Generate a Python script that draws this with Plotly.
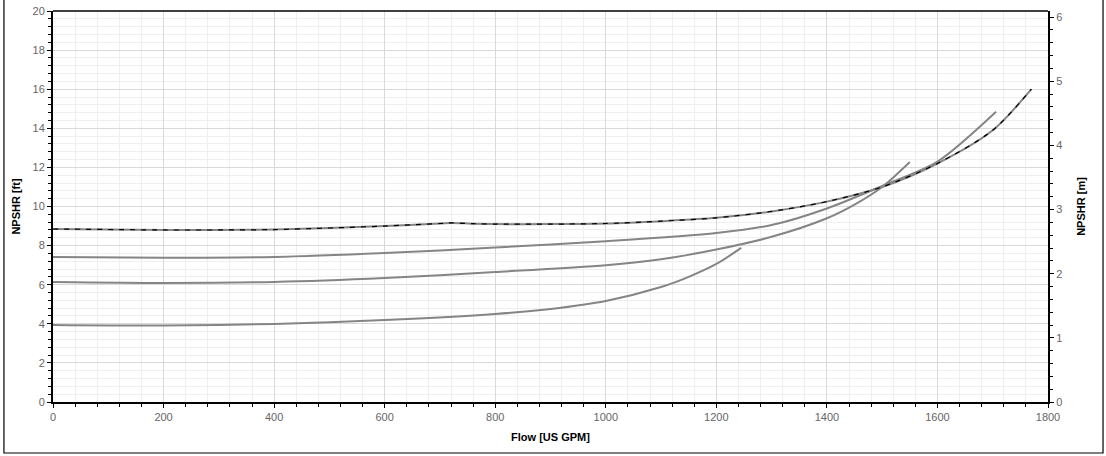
import plotly.graph_objects as go

# Curve A (top, black dashed over grey)
flow_a = [0, 200, 300, 400, 500, 600, 700, 720, 760, 800, 900, 1000, 1100, 1200, 1300, 1400, 1500, 1600, 1700, 1770]
npsh_a = [8.85, 8.80, 8.80, 8.82, 8.90, 9.00, 9.13, 9.16, 9.12, 9.10, 9.10, 9.13, 9.25, 9.42, 9.75, 10.25, 11.0, 12.2, 13.9, 16.0]

flow_b = [0, 200, 400, 600, 800, 1000, 1200, 1300, 1400, 1500, 1600, 1706]
npsh_b = [7.42, 7.38, 7.42, 7.62, 7.9, 8.22, 8.64, 9.05, 9.9, 11.05, 12.3, 14.85]

flow_c = [0, 200, 400, 600, 800, 1000, 1100, 1200, 1300, 1400, 1450, 1500, 1550]
npsh_c = [6.14, 6.09, 6.14, 6.34, 6.65, 7.0, 7.3, 7.8, 8.45, 9.4, 10.1, 11.0, 12.28]

flow_d = [0, 200, 400, 600, 800, 900, 1000, 1100, 1150, 1200, 1245]
npsh_d = [3.94, 3.91, 3.99, 4.19, 4.5, 4.76, 5.17, 5.88, 6.4, 7.06, 7.88]

FT_TO_M = 0.3048

fig = go.Figure()
grey = "#858585"
for fx, fy in [(flow_d, npsh_d), (flow_c, npsh_c), (flow_b, npsh_b), (flow_a, npsh_a)]:
    fig.add_trace(go.Scatter(x=fx, y=fy, mode="lines", line=dict(color=grey, width=2, shape="spline", smoothing=0.8),
                             showlegend=False, hoverinfo="skip"))
fig.add_trace(go.Scatter(x=flow_a, y=npsh_a, mode="lines",
                         line=dict(color="black", width=1.2, dash="5px,6px", shape="spline", smoothing=0.8),
                         showlegend=False, hoverinfo="skip"))
# invisible trace to show secondary axis
fig.add_trace(go.Scatter(x=[0], y=[0], yaxis="y2", mode="markers", marker=dict(opacity=0),
                         showlegend=False, hoverinfo="skip"))

tickfont = dict(family="Liberation Sans, Arial, sans-serif", size=11, color="#666666")
titlefont = dict(family="Liberation Sans, Arial, sans-serif", size=11, color="black")

fig.update_layout(
    width=1106, height=456,
    margin=dict(l=53, r=58, t=11, b=54),
    paper_bgcolor="white", plot_bgcolor="white",
    showlegend=False,
    xaxis=dict(range=[0, 1800], dtick=200, tick0=0, showline=True, linecolor="black", linewidth=2,
               automargin=False, ticks="outside", ticklen=4, tickcolor="black", tickwidth=1,
               showgrid=True, gridcolor="#d9d9d9", gridwidth=1, zeroline=False,
               minor=dict(dtick=40, ticks="outside", ticklen=3, tickcolor="black", showgrid=True, gridcolor="#efefef"),
               tickfont=tickfont,
               title=dict(text="<b>Flow [US GPM]</b>", font=titlefont, standoff=11)),
    yaxis=dict(range=[0, 20], dtick=2, tick0=0, showline=True, linecolor="black", linewidth=2,
               automargin=False, ticks="outside", ticklen=4, tickcolor="black", tickwidth=1,
               showgrid=True, gridcolor="#d9d9d9", gridwidth=1, zeroline=False,
               minor=dict(dtick=0.4, ticks="outside", ticklen=3, tickcolor="black", showgrid=True, gridcolor="#efefef"),
               tickfont=tickfont,
               title=dict(text="<b>NPSHR [ft]</b>", font=titlefont, standoff=10)),
    yaxis2=dict(range=[0, 20 * FT_TO_M], dtick=1, tick0=0, overlaying="y", side="right",
                showline=True, linecolor="black", linewidth=2, automargin=False,
                ticks="outside", ticklen=4, tickcolor="black", tickwidth=1,
                showgrid=False, zeroline=False,
                minor=dict(dtick=0.2, ticks="outside", ticklen=3, tickcolor="black", showgrid=False),
                tickfont=tickfont,
                title=dict(text="<b>NPSHR [m]</b>", font=titlefont, standoff=16)),
    shapes=[
        dict(type="line", xref="paper", yref="paper", x0=0, x1=1, y0=1, y1=1,
             line=dict(color="black", width=1.5)),
        dict(type="rect", xref="paper", yref="paper", x0=-0.0493, x1=1.0553, y0=-0.1304, y1=1.03,
             line=dict(color="black", width=1.2), fillcolor="rgba(0,0,0,0)", layer="above"),
    ],
)

fig.write_html("out.html", config={"displayModeBar": False},
               post_script="document.body.style.margin='0';document.body.style.overflow='hidden';")
